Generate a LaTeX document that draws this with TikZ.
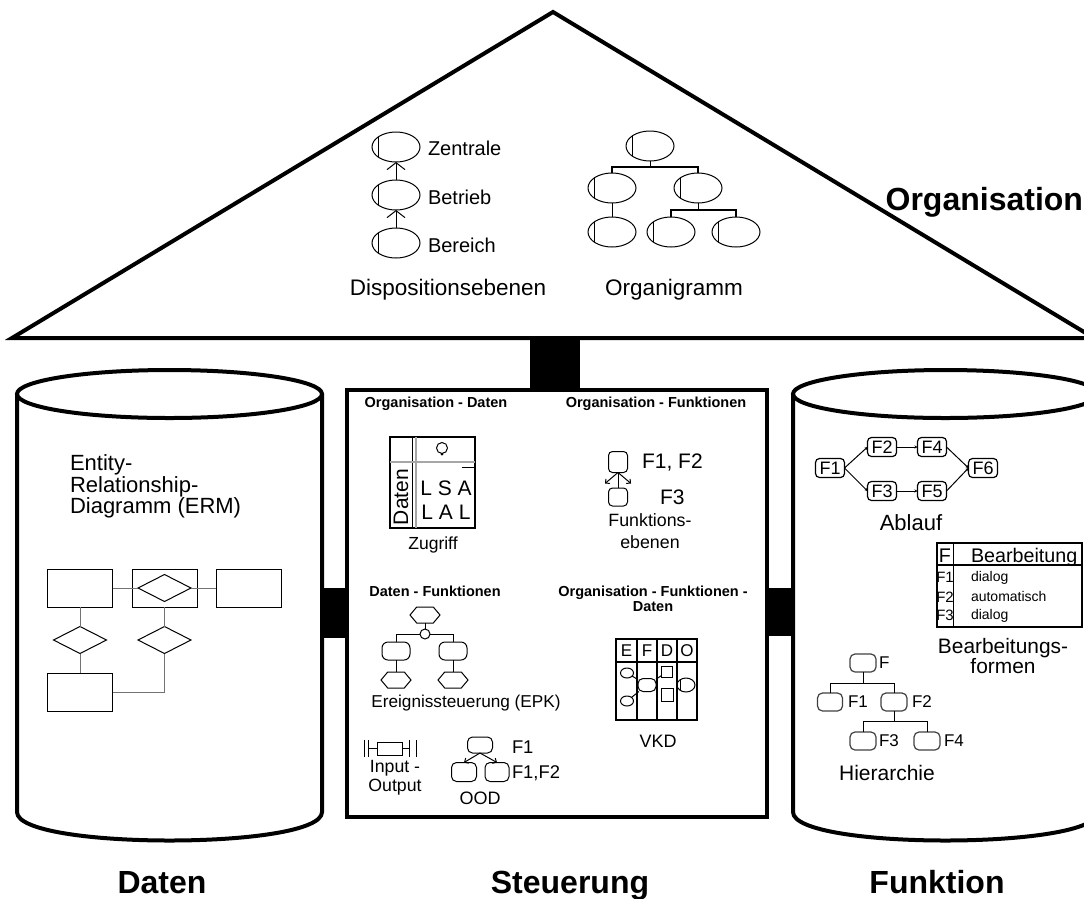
\documentclass[tikz,border=0pt]{standalone}
\usepackage{fontspec}
\setmainfont{Liberation Sans}
\usetikzlibrary{shapes.geometric,shapes.symbols,arrows.meta}
\newcommand{\fontsz}[2]{\fontsize{#1}{#2}\selectfont}

\begin{document}
\begin{tikzpicture}[
		x=1pt, y=-1pt,
		every node/.style={inner sep=0pt, outer sep=0pt},
		wall/.style={line width=4pt},
		pillar/.style={rectangle, fill=black},
		house label/.style={font=\bfseries\fontsz{32}{36}},
		view title/.style={font=\bfseries\fontsz{14.5}{15}, align=center},
		thin/.style={line width=1pt},
		erline/.style={line width=1pt, black!55},
		orgline/.style={path picture={\draw[line width=0.8pt] ([xshift=6pt]path picture bounding box.south west) -- ([xshift=6pt]path picture bounding box.north west);}},
		orgunit/.style={ellipse, draw, line width=1pt, minimum width=48, minimum height=30, orgline},
		levelarrow/.style={line width=1pt, -{Straight Barb[length=7pt, width=18pt]}},
		entity/.style={rectangle, draw, line width=1pt, minimum width=65, minimum height=38},
		relation/.style={diamond, draw, line width=1pt, aspect=2, minimum width=53, minimum height=27},
		func/.style={rectangle, rounded corners=6, draw, line width=1pt, minimum width=28, minimum height=18},
		event/.style={signal, signal to=west and east, signal pointer angle=100, draw, line width=1pt, minimum width=30, minimum height=16},
		smallarrow/.style={line width=1pt, -{Straight Barb[length=3pt, width=6pt]}},
		flowbox/.style={rectangle, rounded corners=4, draw, line width=1.2pt, minimum width=29, minimum height=19, font=\fontsz{18}{20}},
		flow/.style={line width=1pt, -{Stealth[length=3pt, width=3pt]}},
		hbox/.style={rectangle, rounded corners=5, draw, black!75, line width=1.2pt, minimum width=26, minimum height=18},
		cell/.style={anchor=base, font=\fontsz{15}{16}},
		entry/.style={anchor=base west, font=\fontsz{14}{16}}
	]
  \useasboundingbox (0,0) rectangle (1084,898);
  % roof, columns and the middle box
  \draw[wall, line join=miter] (12,338) -- (553,12) -- (1094,338) -- cycle;
  \draw[wall] (17,394) -- (17,812) .. controls (17,850) and (322,850) .. (322,812) -- (322,394);
  \draw[wall] (169.5,394) ellipse [x radius=152.5, y radius=24];
  \draw[wall] (793,394) -- (793,812) .. controls (793,850) and (1098,850) .. (1098,812) -- (1098,394);
  \draw[wall] (945.5,394) ellipse [x radius=152.5, y radius=24];
  \draw[wall] (347,390) rectangle (767,817);
  \node[pillar, minimum width=50, minimum height=52] (roof_post) at (555,364) {};
  \node[pillar, minimum width=26, minimum height=50] (left_post) at (335,613) {};
  \node[pillar, minimum width=27, minimum height=48] (right_post) at (779.5,612) {};

  \node[house label, anchor=base east] (organisation) at (1083,210) {Organisation};
  \node[house label, anchor=base] (daten) at (162,893) {Daten};
  \node[house label, anchor=base] (steuerung) at (570,893) {Steuerung};
  \node[house label, anchor=base] (funktion) at (937,893) {Funktion};

  % Dispositionsebenen
  \node[orgunit] (zentrale) at (396,147) {};
  \node[orgunit] (betrieb) at (396,195) {};
  \node[orgunit] (bereich) at (396,243) {};
  \draw[levelarrow] (betrieb) -- (zentrale);
  \draw[levelarrow] (bereich) -- (betrieb);
  \node[anchor=west, font=\fontsz{20}{22}] (zentrale_l) at (428,148) {Zentrale};
  \node[anchor=west, font=\fontsz{20}{22}] (betrieb_l) at (428,197) {Betrieb};
  \node[anchor=west, font=\fontsz{20}{22}] (bereich_l) at (428,245) {Bereich};
  \node[font=\fontsz{22.5}{24}] (dispo_l) at (448,290) {Dispositionsebenen};

  % Organigramm
  \node[orgunit] (og_top) at (650,146) {};
  \node[orgunit] (og_l) at (612,188) {};
  \node[orgunit] (og_r) at (698,188) {};
  \node[orgunit] (og_ll) at (612,232) {};
  \node[orgunit] (og_rl) at (671,232) {};
  \node[orgunit] (og_rr) at (736,232) {};
  \coordinate (og_bar1) at (650,167);
  \coordinate (og_bar2) at (698,210);
  \draw[thin] (og_top) -- (og_bar1);
  \draw[line width=1.5pt] (og_l.north) |- (og_bar1) -| (og_r.north);
  \draw[thin] (og_l) -- (og_ll);
  \draw[thin] (og_r) -- (og_bar2);
  \draw[line width=1.5pt] (og_rl.north) |- (og_bar2) -| (og_rr.north);
  \node[font=\fontsz{22.5}{24}] (organi_l) at (674,290) {Organigramm};

  % ERM
  \node[anchor=north west, align=left, font=\fontsz{22}{20}] (erm_l) at (70,455) {Entity-\\Relationship-\\Diagramm (ERM)};
  \node[entity] (e1) at (80,588) {};
  \node[entity] (e2) at (164.5,588) {};
  \node[entity] (e3) at (248.5,588) {};
  \node[relation] (r12) at (164.5,588) {};
  \node[relation] (r1) at (80,640) {};
  \node[relation] (r2) at (164.5,640) {};
  \node[entity] (e4) at (80,692) {};
  \draw[erline] (e1) -- (r12);
  \draw[erline] (r12) -- (e3);
  \draw[erline] (e1) -- (r1);
  \draw[erline] (r1) -- (e4);
  \draw[erline] (e2) -- (r2);
  \draw[erline] (r2) |- (e4);

  % Steuerung: titles
  \node[view title] (t_od) at (436,404) {Organisation - Daten};
  \node[view title] (t_of) at (656,404) {Organisation - Funktionen};
  \node[view title] (t_df) at (435,591) {Daten - Funktionen};
  \node[view title] (t_ofd) at (653,599) {Organisation - Funktionen -\\Daten};

  % Zugriff
  \node[draw, line width=1.2pt, minimum width=85, minimum height=91] (zugriff) at (432.5,482.5) {};
  \draw[line width=1pt] (412,437) -- (412,528);
  \draw[line width=1.5pt, black!35] (416,437) -- (416,528);
  \draw[line width=1.5pt, black!35] (390,462) -- (475,462);
  \draw[line width=1pt] (462,467) -- (475,467);
  \node[circle, draw, line width=1pt, minimum size=11] (zg_org) at (442,448) {};
  \node[circle, fill, minimum size=3] (zg_dot) at (442,454) {};
  \node[rotate=90, font=\fontsz{21}{24}] (zg_daten) at (401,497) {Daten};
  \node[font=\fontsz{21}{24}] (zg_lsa) at (446,488) {L S A};
  \node[font=\fontsz{21}{24}] (zg_lal) at (446,512) {L A L};
  \node[font=\fontsz{17.5}{20}] (zugriff_l) at (433,545) {Zugriff};

  % Funktionsebenen
  \node[func, minimum width=19, minimum height=21, rounded corners=4] (fe_top) at (618,462) {};
  \node[func, minimum width=19, minimum height=18, rounded corners=4] (fe_bot) at (618,497) {};
  \draw[thin] (fe_top) -- (fe_bot);
  \draw[smallarrow] (fe_top.south) -- ++(-13,11);
  \draw[smallarrow] (fe_top.south) -- ++(13,11);
  \node[anchor=west, font=\fontsz{21}{24}] (fe_f12) at (642,463) {F1, F2};
  \node[anchor=west, font=\fontsz{21}{24}] (fe_f3) at (660,497) {F3};
  \node[align=center, font=\fontsz{17.8}{22}] (fe_l) at (650,531) {Funktions-\\ebenen};

  % EPK
  \node[event] (epk_e0) at (425,615) {};
  \node[circle, draw, line width=1pt, minimum size=10] (epk_xor) at (425,634) {};
  \node[func] (epk_f1) at (396,651) {};
  \node[func] (epk_f2) at (453,651) {};
  \node[event] (epk_e1) at (396,680) {};
  \node[event] (epk_e2) at (453,680) {};
  \draw[thin] (epk_e0) -- (epk_xor);
  \draw[thin] (epk_f1.north) |- (epk_xor.west);
  \draw[thin] (epk_xor.east) -| (epk_f2.north);
  \draw[thin] (epk_f1) -- (epk_e1);
  \draw[thin] (epk_f2) -- (epk_e2);
  \node[font=\fontsz{17.2}{20}] (epk_l) at (466,703) {Ereignissteuerung (EPK)};

  % Input - Output
  \node[draw, line width=1pt, minimum width=25, minimum height=13] (io_box) at (389.5,748.5) {};
  \coordinate (io_in) at (368,748.5);
  \coordinate (io_out) at (409,748.5);
  \draw[thin] (364,740) -- (364,757);
  \draw[thin] (368,740) -- (368,757);
  \draw[thin] (409,740) -- (409,757);
  \draw[thin] (416,740) -- (416,757);
  \draw[thin] (io_in) -- (io_box.west);
  \draw[thin] (io_box.east) -- (io_out);
  \node[align=center, font=\fontsz{17.7}{19}] (io_l) at (395,778) {Input -\\Output};

  % OOD
  \node[func, minimum width=25, minimum height=16, rounded corners=5] (ood_top) at (480,745) {};
  \node[func, minimum width=25, minimum height=19, rounded corners=5] (ood_l) at (464,772) {};
  \node[func, minimum width=24, minimum height=19, rounded corners=5] (ood_r) at (497,772) {};
  \draw[smallarrow] (ood_top.south) -- (ood_l.north);
  \draw[smallarrow] (ood_top.south) -- (ood_r.north);
  \node[anchor=west, font=\fontsz{18.4}{20}] (ood_f1) at (512,747) {F1};
  \node[anchor=west, font=\fontsz{18.4}{20}] (ood_f12) at (512,773) {F1,F2};
  \node[font=\fontsz{18}{20}] (ood_name) at (480,798) {OOD};

  % VKD
  \node[draw, line width=1.5pt, minimum width=81, minimum height=81] (vkd) at (656.5,679.5) {};
  \draw[line width=1.2pt] (616,662) -- (697,662);
  \draw[line width=1.2pt] (637,639) -- (637,720);
  \draw[line width=1.2pt] (657,639) -- (657,720);
  \draw[line width=1.2pt] (677,639) -- (677,720);
  \node[font=\fontsz{17}{18}] (vkd_he) at (626.5,651) {E};
  \node[font=\fontsz{17}{18}] (vkd_hf) at (647,651) {F};
  \node[font=\fontsz{17}{18}] (vkd_hd) at (667,651) {D};
  \node[font=\fontsz{17}{18}] (vkd_ho) at (687,651) {O};
  \node[ellipse, draw, line width=1pt, minimum width=13, minimum height=10] (vkd_e1) at (627,673) {};
  \node[ellipse, draw, line width=1pt, minimum width=13, minimum height=10] (vkd_e2) at (627,701) {};
  \node[func, minimum width=18, minimum height=13, rounded corners=5] (vkd_f) at (647,685) {};
  \node[draw, line width=1pt, minimum width=11, minimum height=11] (vkd_d1) at (667,672) {};
  \node[draw, line width=1pt, minimum width=12, minimum height=13] (vkd_d2) at (667,695) {};
  \node[ellipse, draw, line width=1pt, minimum width=18, minimum height=14, path picture={\draw[line width=0.8pt] ([xshift=3pt]path picture bounding box.south west) -- ([xshift=3pt]path picture bounding box.north west);}] (vkd_o) at (686,685) {};
  \draw[thin] (vkd_e1) -- (vkd_f);
  \draw[thin] (vkd_e2) -- (vkd_f);
  \draw[thin] (vkd_f) -- (vkd_d1);
  \node[font=\fontsz{18}{20}] (vkd_l) at (658,741) {VKD};

  % Ablauf
  \node[flowbox] (a_f1) at (830,468) {F1};
  \node[flowbox] (a_f2) at (882,447) {F2};
  \node[flowbox] (a_f4) at (932,447) {F4};
  \node[flowbox] (a_f3) at (882,491) {F3};
  \node[flowbox] (a_f5) at (932,491) {F5};
  \node[flowbox] (a_f6) at (983,468) {F6};
  \draw[flow] (a_f1.east) -- (a_f2.west);
  \draw[flow] (a_f1.east) -- (a_f3.west);
  \draw[flow] (a_f2) -- (a_f4);
  \draw[flow] (a_f3) -- (a_f5);
  \draw[flow] (a_f4.east) -- (a_f6.west);
  \draw[flow] (a_f5.east) -- (a_f6.west);
  \node[font=\fontsz{22}{24}] (ablauf_l) at (911,523) {Ablauf};

  % Bearbeitungsformen
  \node[draw, line width=1.2pt, minimum width=145, minimum height=84] (bearb) at (1009.5,585) {};
  \draw[line width=1.5pt] (937,565) -- (1082,565);
  \draw[line width=1pt] (953,543) -- (953,627);
  \node[cell, font=\fontsz{19.7}{21}] (bt_f) at (945,562) {F};
  \node[entry, font=\fontsz{19.7}{21}] (bt_head) at (971,562) {Bearbeitung};
  \node[cell] (bt_f1) at (945,582) {F1};
  \node[cell] (bt_f2) at (945,602) {F2};
  \node[cell] (bt_f3) at (945,620) {F3};
  \node[entry] (bt_r1) at (971,581) {dialog};
  \node[entry] (bt_r2) at (971,601) {automatisch};
  \node[entry] (bt_r3) at (971,619) {dialog};
  \node[align=center, font=\fontsz{20.9}{17}] (bearb_l) at (1003,656) {Bearbeitungs-\\formen};

  % Hierarchie
  \node[hbox] (h_f) at (863,663) {};
  \node[hbox, minimum width=25] (h_f1) at (830,702) {};
  \node[hbox] (h_f2) at (894,702) {};
  \node[hbox] (h_f3) at (863,741) {};
  \node[hbox] (h_f4) at (927,741) {};
  \coordinate (h_bar1) at (863,683);
  \coordinate (h_bar2) at (894,721);
  \draw[thin] (h_f) -- (h_bar1);
  \draw[thin] (h_f1.north) |- (h_bar1) -| (h_f2.north);
  \draw[thin] (h_f2) -- (h_bar2);
  \draw[thin] (h_f3.north) |- (h_bar2) -| (h_f4.north);
  \node[anchor=west, font=\fontsz{17}{18}] (h_fl) at (879,663) {F};
  \node[anchor=west, font=\fontsz{17}{18}] (h_f1l) at (848,702) {F1};
  \node[anchor=west, font=\fontsz{17}{18}] (h_f2l) at (912,702) {F2};
  \node[anchor=west, font=\fontsz{17}{18}] (h_f3l) at (879,741) {F3};
  \node[anchor=west, font=\fontsz{17}{18}] (h_f4l) at (944,741) {F4};
  \node[font=\fontsz{21}{24}] (hier_l) at (887,773) {Hierarchie};
\end{tikzpicture}
\end{document}
